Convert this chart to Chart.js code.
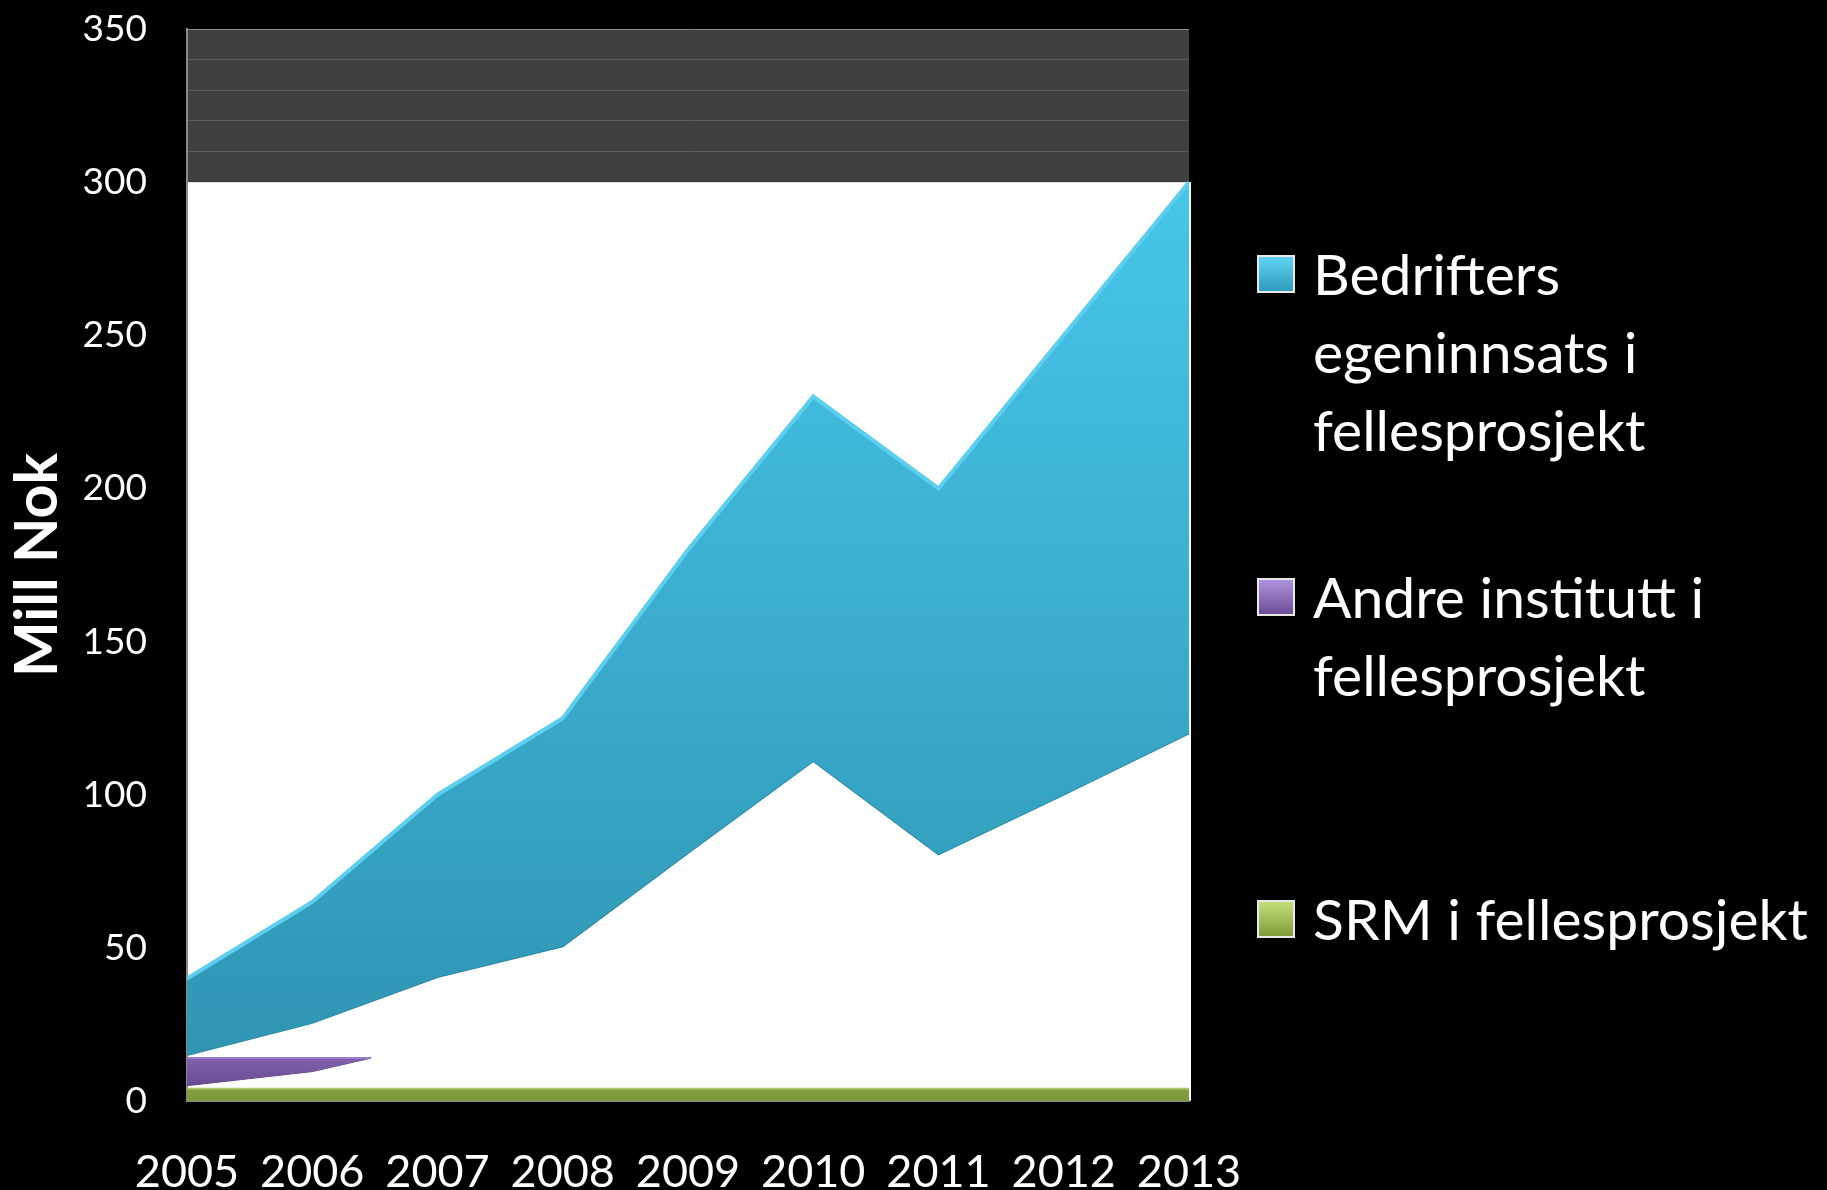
<!DOCTYPE html>
<html>
<head>
<meta charset="utf-8">
<script src="https://cdn.jsdelivr.net/npm/chart.js@4.4.1/dist/chart.umd.min.js"></script>
<style>
  body { margin: 0; background: #000; overflow: hidden; }
  #wrap { position: relative; width: 1827px; height: 1190px; }
  #legend { position: absolute; left: 0; top: 0; font-family: Lato, sans-serif; color: #fff; }
  .entry { position: absolute; left: 1257px; display: flex; align-items: flex-start; }
  .swatch { width: 34px; height: 34px; border: 2px solid #e8e8e8; margin-top: 21px; box-sizing: content-box; }
  .text { margin-left: 18px; font-size: 57px; line-height: 78px; white-space: nowrap; }
</style>
</head>
<body>
<div id="wrap">
  <canvas id="chart"></canvas>
  <div id="legend"></div>
</div>
<script>
const years = [2005, 2006, 2007, 2008, 2009, 2010, 2011, 2012, 2013];
const bedrifterTop = [40, 65, 100, 125, 180, 230, 200, 250, 300];
const bedrifterBase = [15, 25.5, 40.5, 50.5, 81, 111, 80.5, 100, 120];
const andreYears = [2005, 2006, 2006.47];
const andreTop = [14, 14, 14];
const andreBase = [5, 9.6, 14];
const srm = [4, 4, 4, 4, 4, 4, 4, 4, 4];
const yTicks = [0, 50, 100, 150, 200, 250, 300, 350];

const legendItems = [
  { lines: ["Bedrifters", "egeninnsats i", "fellesprosjekt"], top: 234, swatch: "linear-gradient(#5fd3f2, #2f9dbd)" },
  { lines: ["Andre institutt i", "fellesprosjekt"], top: 557, swatch: "linear-gradient(#b093dd, #6d4e98)" },
  { lines: ["SRM i fellesprosjekt"], top: 879, swatch: "linear-gradient(#c3df7a, #7f9c3a)" },
];

const points = (xs, ys) => xs.map((x, i) => ({ x: x, y: ys[i] }));

// plot background: dark grey above 300, white below
const plotBackground = {
  id: "plotBackground",
  beforeDraw(chart) {
    const { ctx, chartArea, scales } = chart;
    const y300 = scales.y.getPixelForValue(300);
    ctx.save();
    ctx.fillStyle = "#404040";
    ctx.fillRect(chartArea.left, chartArea.top, chartArea.right - chartArea.left, y300 - chartArea.top);
    ctx.fillStyle = "#ffffff";
    ctx.fillRect(chartArea.left, y300, chartArea.right - chartArea.left + 2, chartArea.bottom - y300);
    ctx.restore();
  },
};

function vGradient(ctx, from, to, stops) {
  const { chart } = ctx;
  const area = chart.chartArea;
  if (!area) return stops[0];
  const y = chart.scales.y;
  const g = chart.ctx.createLinearGradient(0, y.getPixelForValue(from), 0, y.getPixelForValue(to));
  g.addColorStop(0, stops[0]);
  g.addColorStop(1, stops[1]);
  return g;
}

new Chart(document.getElementById("chart"), {
  type: "line",
  data: {
    datasets: [
      {
        label: "Bedrifters egeninnsats i fellesprosjekt",
        data: points(years, bedrifterTop),
        borderColor: "#5ccff0",
        borderWidth: 4,
        backgroundColor: (ctx) => vGradient(ctx, 300, 15, ["#46c6ea", "#2f95b3"]),
        fill: "+1",
      },
      {
        label: "base",
        data: points(years, bedrifterBase),
        borderColor: "#2a87a4",
        borderWidth: 2,
        fill: false,
      },
      {
        label: "Andre institutt i fellesprosjekt",
        data: points(andreYears, andreTop),
        borderColor: "#9b7cc8",
        borderWidth: 2,
        backgroundColor: (ctx) => vGradient(ctx, 15, 4, ["#8464b0", "#65478f"]),
        fill: "+1",
      },
      {
        label: "base2",
        data: points(andreYears, andreBase),
        borderColor: "#5d4285",
        borderWidth: 1,
        fill: false,
      },
      {
        label: "SRM i fellesprosjekt",
        data: points(years, srm),
        borderColor: "#a9c862",
        borderWidth: 2,
        backgroundColor: "#7e9c3c",
        fill: "origin",
      },
    ],
  },
  options: {
    responsive: true,
    maintainAspectRatio: false,
    animation: false,
    elements: { point: { radius: 0 }, line: { tension: 0 } },
    layout: { padding: { top: 29, right: 638, bottom: 0, left: 0 } },
    plugins: { legend: { display: false }, tooltip: { enabled: false } },
    scales: {
      x: {
        type: "linear",
        min: 2005,
        max: 2013,
        afterFit: (scale) => { scale.height = 89; },
        ticks: {
          stepSize: 1,
          color: "#fff",
          padding: 44,
          font: { family: "Lato", size: 45 },
          callback: (v) => String(v),
        },
        grid: { display: false, drawTicks: false },
        border: { color: "#8a8a8a", width: 2 },
      },
      y: {
        min: 0,
        max: 350,
        afterFit: (scale) => {
          scale.width = 187;
          scale.paddingTop = 0;
          scale.paddingBottom = 0;
        },
        ticks: {
          stepSize: 10,
          autoSkip: false,
          color: "#fff",
          padding: 40,
          font: { family: "Lato", size: 37 },
          callback: (v) => (yTicks.includes(v) ? String(v) : ""),
        },
        grid: {
          drawTicks: false,
          lineWidth: 1,
          color: (ctx) => {
            const v = ctx.tick.value;
            if (v === 350) return "#8a8a8a";
            return v > 300 ? "#5c5c5c" : "rgba(0,0,0,0)";
          },
        },
        border: { color: "#8a8a8a", width: 2 },
        title: {
          display: true,
          text: "Mill Nok",
          color: "#fff",
          padding: { top: 3, bottom: 0 },
          font: { family: "Lato", size: 59, weight: "bold" },
        },
      },
    },
  },
  plugins: [plotBackground],
});

// HTML legend with wrapped labels
const legend = document.getElementById("legend");
legendItems.forEach((item) => {
  const entry = document.createElement("div");
  entry.className = "entry";
  entry.style.top = item.top + "px";
  const sw = document.createElement("div");
  sw.className = "swatch";
  sw.style.background = item.swatch;
  const txt = document.createElement("div");
  txt.className = "text";
  txt.innerHTML = item.lines.join("<br>");
  entry.appendChild(sw);
  entry.appendChild(txt);
  legend.appendChild(entry);
});
</script>
</body>
</html>
